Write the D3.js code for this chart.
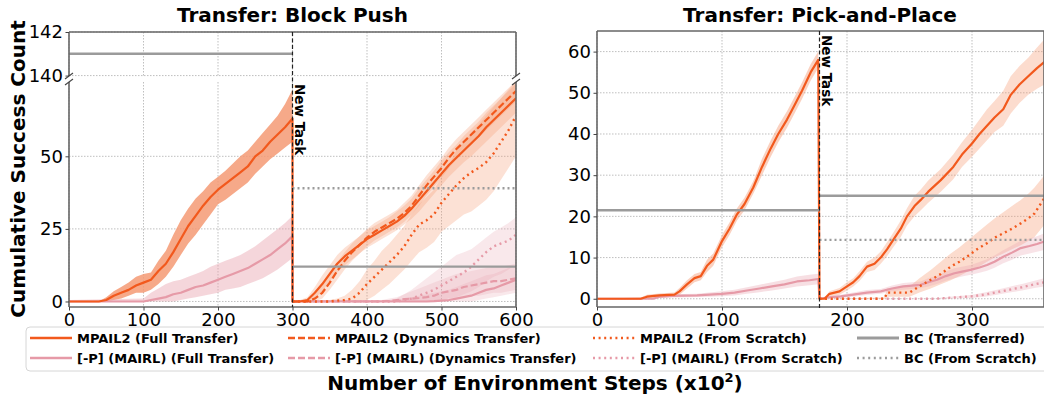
<!DOCTYPE html>
<html>
<head>
<meta charset="utf-8">
<script src="https://cdn.jsdelivr.net/npm/d3@7"></script>
<style>
  body { margin: 0; background: #fff; }
  svg { display: block; font-family: "DejaVu Sans", sans-serif; }
</style>
</head>
<body>
<svg id="chart" width="1044" height="396"></svg>
<script>
// ---- Block Push: before the new task ----
const bpPreX = [0, 40, 50, 60, 70, 80, 90, 100, 110, 120, 130, 140, 150, 160, 170, 180, 190, 200, 210, 220, 230, 240, 250, 260, 270, 280, 290, 300];
const bpPreMpail = [0, 0, 0.5, 2, 3, 4, 5.5, 6.5, 7.5, 10.5, 13, 17, 21.5, 26, 29.5, 33, 36, 38.5, 40.5, 42.5, 44.5, 46.5, 50, 52, 55, 57.5, 60, 63];
const bpPreMpailLo = [0, 0, 0, 0.5, 1, 2, 3, 3, 4, 6, 8.5, 12, 16, 20, 23, 26.5, 30, 33.5, 35, 37, 39, 41, 44, 46.5, 49, 51, 53, 55];
const bpPreMpailHi = [0, 0, 1.5, 3.5, 5, 6.5, 8.5, 9.5, 10, 14, 17.5, 23, 28, 32, 35.5, 38, 41, 43, 45, 47.5, 50, 52, 55, 58, 61, 64, 68, 73];

const bpPreMairlX = [0, 100, 110, 120, 130, 140, 150, 160, 170, 180, 190, 200, 210, 220, 230, 240, 250, 260, 270, 280, 290, 300];
const bpPreMairl = [0, 0, 0.5, 1, 1.5, 2.5, 3, 4, 5, 5.5, 6.5, 7.5, 8.5, 9.5, 10.5, 11.5, 13, 14.5, 16, 18, 20, 22.5];
const bpPreMairlLo = [0, 0, 0, 0, 0, 0, 0.5, 1, 1.5, 2, 2.5, 3, 4, 4.5, 5, 6, 7, 8, 9.5, 11, 13, 15];
const bpPreMairlHi = [0.5, 1, 3, 4.5, 6, 7, 7.5, 8.5, 9.5, 10.5, 12, 13, 14, 15, 16, 17.5, 19, 21, 23, 25, 27, 29.5];

// ---- Block Push: after the new task ----
const bpPostX = [300, 310, 320, 330, 340, 350, 360, 370, 380, 390, 400, 410, 420, 430, 440, 450, 460, 470, 480, 490, 500, 510, 520, 530, 540, 550, 560, 570, 580, 590, 600];
const bpMpailFull = [0, 0, 0.5, 3, 6, 9.5, 13, 15.5, 17.5, 19.5, 21.5, 23, 24.5, 26, 27.5, 29.5, 32, 35, 38, 41, 44, 47, 49.5, 52, 54.5, 57, 60, 62.5, 65, 67.5, 70];
const bpMpailFullLo = [0, 0, 0, 1, 3.5, 7, 10, 12.5, 14.5, 16.5, 18.5, 20, 21.5, 23, 24.5, 26.5, 28.5, 31, 34, 37, 40, 43, 45.5, 48, 50, 52.5, 55, 57.5, 60, 62.5, 65];
const bpMpailFullHi = [0, 0.5, 1.5, 5, 9, 12.5, 16, 18.5, 20.5, 22.5, 24.5, 26, 27.5, 29, 31, 33, 35.5, 39, 42, 45, 48.5, 51.5, 54, 57, 59.5, 62, 65, 67.5, 70, 72.5, 75];
const bpMpailDyn = [0, 0, 0, 1, 3, 6.5, 10.5, 14, 17, 19.5, 22, 24, 25.5, 27, 28.5, 30.5, 33, 36.5, 40, 43, 46, 49.5, 52.5, 55, 57.5, 60, 62.5, 65, 67.5, 70, 72.5];
const bpMpailDynLo = [0, 0, 0, 0, 1, 4, 7.5, 11, 14, 16.5, 19, 21, 22.5, 24, 25.5, 27.5, 30, 33, 36.5, 39.5, 42.5, 46, 49, 51.5, 54, 56.5, 59, 61.5, 64, 66.5, 69];
const bpMpailDynHi = [0, 0, 0.5, 2.5, 5.5, 9.5, 13.5, 17, 20, 22.5, 25, 27, 28.5, 30, 31.5, 34, 36.5, 40, 43.5, 46.5, 49.5, 53, 56, 58.5, 61, 63.5, 66, 68.5, 71, 73.5, 76];
const bpMpailScratch = [0, 0, 0, 0, 0, 0, 0.3, 0.5, 1, 3, 6, 8.5, 11, 13.5, 16, 19, 23, 26.5, 28, 30, 34, 37, 40, 42.5, 44.5, 46, 48, 51, 55, 59, 64];
const bpMpailScratchLo = [0, 0, 0, 0, 0, 0, 0, 0, 0, 0, 0.5, 2, 4, 6, 8.5, 11, 14, 17, 18.5, 20.5, 24, 26, 28, 30, 31, 33, 35, 38, 42, 46, 50];
const bpMpailScratchHi = [0, 0, 0, 0, 0, 0.5, 1, 2, 4, 7, 11, 14, 17.5, 20, 23, 26, 30, 33.5, 36, 38.5, 43, 47, 52, 55, 58, 61, 64, 67, 70, 73, 76];
const bpMairlFull = [0, 0, 0, 0, 0, 0, 0, 0, 0, 0, 0, 0, 0, 0, 0, 0, 0, 0, 0, 0.1, 0.3, 0.5, 1, 1.5, 2, 3, 4, 4.5, 5.5, 6.5, 7.5];
const bpMairlFullLo = [0, 0, 0, 0, 0, 0, 0, 0, 0, 0, 0, 0, 0, 0, 0, 0, 0, 0, 0, 0, 0, 0, 0, 0, 0, 0.5, 1, 1.5, 2, 2.5, 3];
const bpMairlFullHi = [0, 0.5, 0.5, 0.5, 0.5, 0.5, 0.5, 0.5, 0.5, 0.5, 0.5, 0.5, 0.5, 0.5, 0.5, 1, 1.5, 2, 2.5, 3, 3.5, 4, 5, 6, 7, 8, 9, 9.5, 10.5, 11.5, 12.5];
const bpMairlDyn = [0, 0, 0, 0, 0, 0, 0, 0, 0, 0, 0, 0, 0, 0.2, 0.5, 0.8, 1, 1.2, 1.5, 2, 3, 3.5, 4, 5, 5.5, 6, 6.5, 7, 7, 7.5, 8];
const bpMairlDynLo = [0, 0, 0, 0, 0, 0, 0, 0, 0, 0, 0, 0, 0, 0, 0, 0, 0, 0, 0, 0, 0.5, 1, 1, 1.5, 2, 2, 2.5, 3, 3, 3.5, 4];
const bpMairlDynHi = [0, 0.5, 0.5, 0.5, 0.5, 0.5, 0.5, 0.5, 0.5, 0.5, 0.5, 0.5, 0.5, 1, 1.5, 2.5, 3.5, 4.5, 5.5, 6.5, 7.5, 8.5, 9.5, 10, 10.5, 11, 11.5, 12, 12, 12.5, 13];
const bpMairlScratch = [0, 0, 0, 0, 0, 0, 0, 0, 0, 0, 0, 0, 0, 0, 0, 0.5, 1, 2, 3, 4, 5.5, 7, 8.5, 10, 12, 14.5, 17, 19, 20, 21, 23];
const bpMairlScratchLo = [0, 0, 0, 0, 0, 0, 0, 0, 0, 0, 0, 0, 0, 0, 0, 0, 0, 0, 0, 0, 0.5, 1, 1.5, 2.5, 3.5, 5, 7, 8.5, 9.5, 11, 13];
const bpMairlScratchHi = [0, 0.5, 0.5, 0.5, 0.5, 0.5, 0.5, 0.5, 0.5, 0.5, 0.5, 0.5, 0.5, 0.5, 1, 2.5, 4, 6, 8, 10, 12, 14, 16, 17, 18, 20, 22, 24, 25.5, 27, 29];

const bpBcTransferredPre = 141;
const bpBcTransferredPost = 12;
const bpBcScratch = 39;
const bpNewTask = 300;

// ---- Pick-and-Place: before the new task ----
const ppPreX = [0, 35, 40, 50, 62, 66, 72, 78, 83, 88, 93, 100, 106, 112, 118, 125, 132, 139, 145, 152, 158, 164, 171, 177];
const ppPreMpail = [0, 0, 0.5, 0.8, 1, 1.8, 3.5, 5, 5.5, 8, 9.5, 14, 17, 20.5, 23, 27, 32, 36.5, 40, 43.5, 47, 50.5, 55, 58];
const ppPreMpailLo = [0, 0, 0, 0.3, 0.5, 1, 2.5, 4, 4.5, 6.5, 8, 12.5, 15.5, 19, 21.5, 25.5, 30, 34.5, 38, 41.5, 45, 48.5, 53, 56];
const ppPreMpailHi = [0, 0.3, 1, 1.3, 1.5, 2.6, 4.5, 6, 6.5, 9.5, 11, 15.5, 18.5, 22, 24.5, 28.5, 34, 38.5, 42, 45.5, 49, 52.5, 57, 60];

const ppPreMairlX = [0, 45, 50, 60, 80, 90, 100, 110, 120, 130, 140, 150, 160, 170, 177];
const ppPreMairl = [0, 0, 0.5, 0.7, 0.8, 1, 1.2, 1.5, 2, 2.5, 3, 3.5, 4.2, 4.5, 4.8];
const ppPreMairlLo = [0, 0, 0.2, 0.3, 0.4, 0.5, 0.6, 0.8, 1.2, 1.6, 2, 2.5, 3, 3.3, 3.5];
const ppPreMairlHi = [0, 0.2, 0.8, 1.1, 1.2, 1.5, 1.8, 2.2, 2.8, 3.4, 4, 4.6, 5.4, 5.8, 6.1];

// ---- Pick-and-Place: after the new task ----
const ppPostX = [178, 182, 186, 194, 200, 205, 210, 216, 222, 227, 232, 237, 243, 248, 254, 259, 265, 275, 285, 292, 300, 306, 312, 318, 325, 331, 338, 345, 352, 358];
const ppMpailFull = [0, 0, 1.2, 1.8, 3, 4, 5.5, 7.8, 8.5, 10, 12, 14.3, 17, 20, 22.5, 24, 26, 28.8, 32, 35, 37.7, 40, 42, 44, 46, 49.5, 52, 54, 56, 57.5];
const ppMpailFullLo = [0, 0, 0.5, 1, 2, 3, 4.3, 6.5, 7, 8.5, 10.3, 12.5, 15, 17.8, 20, 21.5, 23.3, 26, 29, 32, 34.5, 36.5, 38.5, 40.5, 42, 45, 47.5, 49.5, 51, 52];
const ppMpailFullHi = [0, 0.3, 1.8, 2.6, 4, 5, 6.7, 9, 10, 11.5, 13.7, 16, 19, 22, 25, 26.5, 28.7, 31.5, 35, 38, 41, 43.5, 46, 48, 50.5, 54, 56.5, 58.5, 61, 63];

const ppScratchX = [178, 230, 232, 250, 258, 267, 275, 283, 290, 296, 304, 312, 318, 325, 332, 339, 345, 350, 358];
const ppMpailScratch = [0, 0, 1.5, 1.5, 3, 4.6, 6, 7.8, 9, 10.2, 12, 13.5, 14.8, 15.9, 17, 18.3, 19.5, 20.7, 24.5];
const ppMpailScratchLo = [0, 0, 0.5, 0.5, 1.5, 2.5, 3.5, 4.5, 5.5, 6.5, 7.5, 9, 10, 11, 12, 13, 14, 15, 18];
const ppMpailScratchHi = [0, 0.3, 2.5, 3, 5, 7, 9, 11, 12.5, 14, 16, 18, 19.5, 21, 22.5, 24, 25.5, 27, 30];

const ppMairlPostX = [178, 184, 195, 205, 216, 227, 236, 245, 252, 259, 265, 272, 279, 286, 292, 299, 306, 312, 318, 325, 332, 339, 346, 352, 358];
const ppMairlFull = [0, 0.3, 0.6, 1, 1.5, 1.8, 2.5, 3, 3.2, 3.4, 4, 4.6, 5.5, 6.2, 6.6, 7, 7.6, 8.2, 9, 10.2, 11.2, 12.3, 12.8, 13.3, 13.9];
const ppMairlFullLo = [0, 0, 0.2, 0.5, 0.9, 1.2, 1.8, 2.2, 2.4, 2.6, 3, 3.6, 4.4, 5, 5.4, 5.8, 6.3, 6.8, 7.5, 8.6, 9.5, 10.5, 11, 11.4, 11.9];
const ppMairlFullHi = [0, 0.6, 1, 1.5, 2.1, 2.4, 3.2, 3.8, 4, 4.2, 5, 5.6, 6.6, 7.4, 7.8, 8.2, 8.9, 9.6, 10.5, 11.8, 12.9, 14.1, 14.6, 15.2, 15.9];

const ppMairlScratchX = [178, 270, 280, 290, 300, 310, 320, 330, 340, 350, 358];
const ppMairlScratch = [0, 0, 0.2, 0.4, 0.6, 1, 1.6, 2.2, 2.8, 3.5, 4];
const ppMairlScratchLo = [0, 0, 0, 0.1, 0.2, 0.5, 1, 1.5, 2, 2.6, 3];
const ppMairlScratchHi = [0, 0.1, 0.4, 0.7, 1, 1.5, 2.2, 2.9, 3.6, 4.4, 5];

const ppBcTransferredPre = 21.5;
const ppBcTransferredPost = 25;
const ppBcScratch = 14.3;
const ppNewTask = 178;

// ---- ticks and labels ----
const bpXTicks = [0, 100, 200, 300, 400, 500, 600];
const bpTopYTicks = [140, 142];
const bpLowYTicks = [0, 25, 50];
const ppXTicks = [0, 100, 200, 300];
const ppYTicks = [0, 10, 20, 30, 40, 50, 60];

const legendLabels = [
  "MPAIL2 (Full Transfer)", "MPAIL2 (Dynamics Transfer)", "MPAIL2 (From Scratch)", "BC (Transferred)",
  "[-P] (MAIRL) (Full Transfer)", "[-P] (MAIRL) (Dynamics Transfer)", "[-P] (MAIRL) (From Scratch)", "BC (From Scratch)"
];

const ORANGE = "#f2591d";
const ORANGE_BAND = "#f59a74";
const PINK = "#e69aa7";
const PINK_BAND = "#e9a3b0";
const GREY = "#9b9b9b";
const dashes = { full: null, dyn: "7,3", scratch: "2,3.6" };

const svg = d3.select("#chart");
const defs = svg.append("defs");

function zip(xs, ys, lo, hi) {
  return xs.map((x, i) => ({ x: x, y: ys[i], lo: lo[i], hi: hi[i] }));
}

function makeAxes(id, x, y) {
  const [x0, x1] = x.range();
  const [y1, y0] = y.range();
  defs.append("clipPath").attr("id", id)
    .append("rect").attr("x", x0).attr("y", y0).attr("width", x1 - x0).attr("height", y1 - y0);
  const g = svg.append("g");
  const grid = g.append("g");
  const plot = g.append("g").attr("clip-path", `url(#${id})`);
  return { g, grid, plot, x, y, x0, x1, y0, y1 };
}

function drawGrid(ax, xt, yt) {
  ax.grid.selectAll(".vx").data(xt).join("line")
    .attr("x1", d => ax.x(d)).attr("x2", d => ax.x(d))
    .attr("y1", ax.y0).attr("y2", ax.y1)
    .attr("stroke", "#b8b8b8").attr("stroke-width", 0.9).attr("stroke-dasharray", "1.5,1.5");
  ax.grid.selectAll(".hy").data(yt).join("line")
    .attr("x1", ax.x0).attr("x2", ax.x1)
    .attr("y1", d => ax.y(d)).attr("y2", d => ax.y(d))
    .attr("stroke", "#b8b8b8").attr("stroke-width", 0.9).attr("stroke-dasharray", "1.5,1.5");
}

function band(ax, pts, color, opacity) {
  const area = d3.area().x(d => ax.x(d.x)).y0(d => ax.y(d.lo)).y1(d => ax.y(d.hi));
  ax.plot.append("path").datum(pts).attr("d", area)
    .attr("fill", color).attr("fill-opacity", opacity).attr("stroke", "none");
}

function line(ax, pts, color, dash, width) {
  const ln = d3.line().x(d => ax.x(d.x)).y(d => ax.y(d.y));
  ax.plot.append("path").datum(pts).attr("d", ln)
    .attr("fill", "none").attr("stroke", color).attr("stroke-width", width || 2.2)
    .attr("stroke-dasharray", dash).attr("stroke-linejoin", "round");
}

function hline(ax, v, xa, xb, dash) {
  ax.plot.append("line")
    .attr("x1", ax.x(xa)).attr("x2", ax.x(xb)).attr("y1", ax.y(v)).attr("y2", ax.y(v))
    .attr("stroke", GREY).attr("stroke-width", 2.4).attr("stroke-dasharray", dash);
}

function spines(ax, sides) {
  const s = ax.g.append("g").attr("stroke", "#666").attr("stroke-width", 1.6);
  if (sides.includes("t")) s.append("line").attr("x1", ax.x0).attr("x2", ax.x1).attr("y1", ax.y0).attr("y2", ax.y0);
  if (sides.includes("b")) s.append("line").attr("x1", ax.x0).attr("x2", ax.x1).attr("y1", ax.y1).attr("y2", ax.y1);
  if (sides.includes("l")) s.append("line").attr("x1", ax.x0).attr("x2", ax.x0).attr("y1", ax.y0).attr("y2", ax.y1);
  if (sides.includes("r")) s.append("line").attr("x1", ax.x1).attr("x2", ax.x1).attr("y1", ax.y0).attr("y2", ax.y1);
}

function styleAxis(sel) {
  sel.select(".domain").remove();
  sel.selectAll(".tick line").attr("stroke", "#444").attr("stroke-width", 1);
  sel.selectAll(".tick text").attr("fill", "#000").style("font-size", "18px")
    .style("font-family", '"DejaVu Sans", sans-serif');
}

function yAxis(ax, ticks) {
  ax.g.append("g").attr("transform", `translate(${ax.x0},0)`)
    .call(d3.axisLeft(ax.y).tickValues(ticks).tickSize(3.5).tickPadding(2.5).tickFormat(d3.format("d")))
    .call(styleAxis);
}

function xAxis(ax, ticks) {
  ax.g.append("g").attr("transform", `translate(0,${ax.y1})`)
    .call(d3.axisBottom(ax.x).tickValues(ticks).tickSize(3.5).tickPadding(2.5).tickFormat(d3.format("d")))
    .call(styleAxis);
}

function newTask(ax, v, yTop, yBot) {
  ax.g.append("line")
    .attr("x1", ax.x(v)).attr("x2", ax.x(v)).attr("y1", yTop).attr("y2", yBot)
    .attr("stroke", "#222").attr("stroke-width", 1.2).attr("stroke-dasharray", "4,2.5");
}

function newTaskText(ax, v, yTop) {
  ax.g.append("text")
    .attr("transform", `translate(${ax.x(v) + 2},${yTop + 2}) rotate(90)`)
    .style("font-size", "13.5px").style("font-weight", "bold").attr("fill", "#000")
    .text("New Task");
}

function breakMark(g, x, y) {
  g.append("line").attr("x1", x - 4).attr("y1", y + 3).attr("x2", x + 4).attr("y2", y - 3)
    .attr("stroke", "#444").attr("stroke-width", 1.1);
}

// ================= Block Push =================
const bpX = d3.scaleLinear().domain([0, 600]).range([69, 516]);
const bpTop = makeAxes("clipBpTop", bpX, d3.scaleLinear().domain([139.98, 142]).range([76, 32]));
const bpLow = makeAxes("clipBpLow", bpX, d3.scaleLinear().domain([-1.9, 75.6]).range([307, 82]));

drawGrid(bpTop, bpXTicks, bpTopYTicks);
drawGrid(bpLow, bpXTicks, bpLowYTicks);

band(bpLow, zip(bpPreX, bpPreMpail, bpPreMpailLo, bpPreMpailHi), ORANGE_BAND, 0.85);
band(bpLow, zip(bpPreMairlX, bpPreMairl, bpPreMairlLo, bpPreMairlHi), PINK_BAND, 0.45);
band(bpLow, zip(bpPostX, bpMpailFull, bpMpailFullLo, bpMpailFullHi), ORANGE_BAND, 0.3);
band(bpLow, zip(bpPostX, bpMpailDyn, bpMpailDynLo, bpMpailDynHi), ORANGE_BAND, 0.3);
band(bpLow, zip(bpPostX, bpMpailScratch, bpMpailScratchLo, bpMpailScratchHi), ORANGE_BAND, 0.3);
band(bpLow, zip(bpPostX, bpMairlFull, bpMairlFullLo, bpMairlFullHi), PINK_BAND, 0.25);
band(bpLow, zip(bpPostX, bpMairlDyn, bpMairlDynLo, bpMairlDynHi), PINK_BAND, 0.25);
band(bpLow, zip(bpPostX, bpMairlScratch, bpMairlScratchLo, bpMairlScratchHi), PINK_BAND, 0.25);

line(bpLow, zip(bpPreMairlX, bpPreMairl, bpPreMairlLo, bpPreMairlHi).concat(zip(bpPostX, bpMairlFull, bpMairlFullLo, bpMairlFullHi)), PINK, dashes.full);
line(bpLow, zip(bpPostX, bpMairlDyn, bpMairlDynLo, bpMairlDynHi), PINK, dashes.dyn);
line(bpLow, zip(bpPostX, bpMairlScratch, bpMairlScratchLo, bpMairlScratchHi), PINK, dashes.scratch, 2.4);
line(bpLow, zip(bpPreX, bpPreMpail, bpPreMpailLo, bpPreMpailHi).concat(zip(bpPostX, bpMpailFull, bpMpailFullLo, bpMpailFullHi)), ORANGE, dashes.full);
line(bpLow, zip(bpPostX, bpMpailDyn, bpMpailDynLo, bpMpailDynHi), ORANGE, dashes.dyn);
line(bpLow, zip(bpPostX, bpMpailScratch, bpMpailScratchLo, bpMpailScratchHi), ORANGE, dashes.scratch, 2.4);

hline(bpTop, bpBcTransferredPre, 0, bpNewTask, null);
hline(bpLow, bpBcTransferredPost, bpNewTask, 600, null);
hline(bpLow, bpBcScratch, bpNewTask, 600, "2,3");

spines(bpTop, "tlr");
spines(bpLow, "blr");
yAxis(bpTop, bpTopYTicks);
yAxis(bpLow, bpLowYTicks);
xAxis(bpLow, bpXTicks);
newTask(bpLow, bpNewTask, 32, 307);
newTaskText(bpLow, bpNewTask, 82);
breakMark(svg, 69, 76); breakMark(svg, 516, 76);
breakMark(svg, 69, 82); breakMark(svg, 516, 82);

svg.append("text").attr("x", 292.5).attr("y", 22).attr("text-anchor", "middle")
  .style("font-size", "20px").style("font-weight", "bold").text("Transfer: Block Push");

// ================= Pick-and-Place =================
const pp = makeAxes("clipPp", d3.scaleLinear().domain([0, 357.6]).range([597, 1044]),
  d3.scaleLinear().domain([-2, 65]).range([307, 31]));

drawGrid(pp, ppXTicks, ppYTicks);

band(pp, zip(ppPreX, ppPreMpail, ppPreMpailLo, ppPreMpailHi), ORANGE_BAND, 0.45);
band(pp, zip(ppPreMairlX, ppPreMairl, ppPreMairlLo, ppPreMairlHi), PINK_BAND, 0.35);
band(pp, zip(ppPostX, ppMpailFull, ppMpailFullLo, ppMpailFullHi), ORANGE_BAND, 0.35);
band(pp, zip(ppScratchX, ppMpailScratch, ppMpailScratchLo, ppMpailScratchHi), ORANGE_BAND, 0.35);
band(pp, zip(ppMairlPostX, ppMairlFull, ppMairlFullLo, ppMairlFullHi), PINK_BAND, 0.3);
band(pp, zip(ppMairlScratchX, ppMairlScratch, ppMairlScratchLo, ppMairlScratchHi), PINK_BAND, 0.3);

line(pp, zip(ppPreMairlX, ppPreMairl, ppPreMairlLo, ppPreMairlHi).concat(zip(ppMairlPostX, ppMairlFull, ppMairlFullLo, ppMairlFullHi)), PINK, dashes.full);
line(pp, zip(ppMairlScratchX, ppMairlScratch, ppMairlScratchLo, ppMairlScratchHi), PINK, dashes.scratch, 2.4);
line(pp, zip(ppPreX, ppPreMpail, ppPreMpailLo, ppPreMpailHi).concat(zip(ppPostX, ppMpailFull, ppMpailFullLo, ppMpailFullHi)), ORANGE, dashes.full);
line(pp, zip(ppScratchX, ppMpailScratch, ppMpailScratchLo, ppMpailScratchHi), ORANGE, dashes.scratch, 2.4);

hline(pp, ppBcTransferredPre, 0, ppNewTask, null);
hline(pp, ppBcTransferredPost, ppNewTask, 360, null);
hline(pp, ppBcScratch, ppNewTask, 360, "2,3");

spines(pp, "tblr");
yAxis(pp, ppYTicks);
xAxis(pp, ppXTicks);
newTask(pp, ppNewTask, 31, 310);
newTaskText(pp, ppNewTask, 33);

svg.append("text").attr("x", 820).attr("y", 22).attr("text-anchor", "middle")
  .style("font-size", "20px").style("font-weight", "bold").text("Transfer: Pick-and-Place");

// ================= shared labels =================
svg.append("text")
  .attr("transform", "translate(25,169) rotate(-90)").attr("text-anchor", "middle")
  .style("font-size", "20px").style("font-weight", "bold").text("Cumulative Success Count");

const xl = svg.append("text").attr("x", 535).attr("y", 390).attr("text-anchor", "middle")
  .style("font-size", "20px").style("font-weight", "bold");
xl.append("tspan").text("Number of Environment Steps (x10");
xl.append("tspan").attr("dy", -8).style("font-size", "13px").text("2");
xl.append("tspan").attr("dy", 8).text(")");

// ================= legend =================
const lg = svg.append("g");
lg.append("rect").attr("x", 26).attr("y", 327).attr("width", 1030).attr("height", 44).attr("rx", 4)
  .attr("fill", "#fff").attr("fill-opacity", 0.8).attr("stroke", "#d6d6d6").attr("stroke-width", 1);

const legendTextX = [77, 335, 640, 904];
const legendRowY = [338, 358];
const legendStyle = [
  { c: ORANGE, d: dashes.full, w: 2.6 }, { c: ORANGE, d: dashes.dyn, w: 2.6 }, { c: ORANGE, d: dashes.scratch, w: 2.6 }, { c: GREY, d: null, w: 3 },
  { c: PINK, d: dashes.full, w: 2.6 }, { c: PINK, d: dashes.dyn, w: 2.6 }, { c: PINK, d: dashes.scratch, w: 2.6 }, { c: GREY, d: "2,3.6", w: 2.6 }
];

legendLabels.forEach((label, i) => {
  const col = i % 4, row = Math.floor(i / 4);
  const tx = legendTextX[col], ty = legendRowY[row];
  const st = legendStyle[i];
  lg.append("line").attr("x1", tx - 47).attr("x2", tx - 5).attr("y1", ty).attr("y2", ty)
    .attr("stroke", st.c).attr("stroke-width", st.w).attr("stroke-dasharray", st.d);
  lg.append("text").attr("x", tx).attr("y", ty).attr("dy", "0.35em")
    .style("font-size", "13px").style("font-weight", "bold").text(label);
});
</script>
</body>
</html>
